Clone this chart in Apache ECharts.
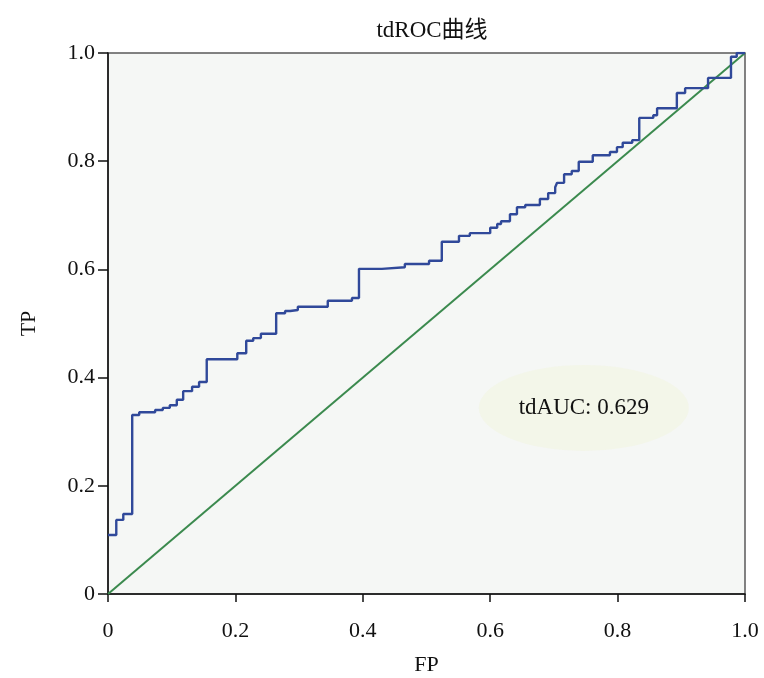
<!DOCTYPE html>
<html>
<head>
<meta charset="utf-8">
<script src="https://cdn.jsdelivr.net/npm/echarts@6/dist/echarts.min.js"></script>
<style>
  html, body { margin: 0; padding: 0; background: #fff; }
  #chart { width: 764px; height: 678px; }
</style>
</head>
<body>
<div id="chart"></div>
<script>
  // step points of the tdROC curve, [FP, TP] after each step
  const rocFP = [0, 0.013, 0.024, 0.038, 0.049, 0.074, 0.086, 0.097, 0.108, 0.118,
    0.132, 0.143, 0.155, 0.203, 0.217, 0.228, 0.240, 0.264, 0.278, 0.286,
    0.298, 0.345, 0.383, 0.394, 0.430, 0.466, 0.504, 0.524, 0.551, 0.568,
    0.600, 0.611, 0.617, 0.631, 0.642, 0.655, 0.678, 0.691, 0.702, 0.705,
    0.716, 0.728, 0.739, 0.761, 0.788, 0.799, 0.808, 0.823, 0.834, 0.856,
    0.862, 0.893, 0.906, 0.942, 0.978, 0.987, 1.0]
  const rocTP = [0.109, 0.137, 0.148, 0.331, 0.336, 0.340, 0.344, 0.349, 0.359, 0.375,
    0.383, 0.392, 0.434, 0.445, 0.468, 0.473, 0.481, 0.519, 0.523, 0.525,
    0.531, 0.542, 0.547, 0.601, 0.604, 0.610, 0.616, 0.651, 0.662, 0.667,
    0.677, 0.684, 0.689, 0.702, 0.715, 0.719, 0.730, 0.741, 0.752, 0.760,
    0.776, 0.782, 0.799, 0.811, 0.817, 0.826, 0.834, 0.839, 0.880, 0.885,
    0.898, 0.926, 0.935, 0.954, 0.993, 1.0, 1.0]
  const refFP = [0, 1]
  const refTP = [0, 1]
  const xTickLabels = ['0', '0.2', '0.4', '0.6', '0.8', '1.0']
  const yTickLabels = ['0', '0.2', '0.4', '0.6', '0.8', '1.0']
  const aucText = 'tdAUC: 0.629'
  const aucPos = [0.747, 0.344]

  const serif = '"Liberation Serif", "DejaVu Serif", serif'
  const chart = echarts.init(document.getElementById('chart'))
  chart.setOption({
    animation: false,
    backgroundColor: '#fff',
    title: {
      text: 'tdROC曲线',
      left: 427,
      top: 14,
      textAlign: 'center',
      textStyle: {fontFamily: serif + ', "Noto Sans CJK SC"', fontSize: 23, fontWeight: 'normal', color: '#111'}
    },
    grid: {
      left: 108, right: 19, top: 53, bottom: 84,
      outerBoundsMode: 'none',
      containLabel: false,
      show: true,
      backgroundColor: '#f5f7f5',
      borderColor: '#5a5a5a',
      borderWidth: 1.5
    },
    xAxis: {
      type: 'value',
      min: 0, max: 1, interval: 0.2,
      name: 'FP',
      nameLocation: 'middle',
      nameGap: 60,
      nameTextStyle: {fontFamily: serif, fontSize: 22, color: '#111'},
      axisLine: {lineStyle: {color: '#111', width: 1.5}},
      axisTick: {length: 8, lineStyle: {color: '#111', width: 1.5}},
      axisLabel: {
        margin: 26,
        fontFamily: serif, fontSize: 22, color: '#111',
        formatter: (v) => xTickLabels[Math.round(v * 5)]
      },
      splitLine: {show: false}
    },
    yAxis: {
      type: 'value',
      min: 0, max: 1, interval: 0.2,
      name: 'TP',
      nameLocation: 'middle',
      nameGap: 68,
      nameTextStyle: {fontFamily: serif, fontSize: 22, color: '#111'},
      axisLine: {lineStyle: {color: '#111', width: 1.5}},
      axisTick: {length: 10, lineStyle: {color: '#111', width: 1.5}},
      axisLabel: {
        margin: 13,
        fontFamily: serif, fontSize: 22, color: '#111',
        formatter: (v) => yTickLabels[Math.round(v * 5)]
      },
      splitLine: {show: false}
    },
    series: [
      {
        type: 'line',
        name: 'reference',
        symbol: 'none',
        lineStyle: {color: '#3b8a4e', width: 2},
        data: refFP.map((x, i) => [x, refTP[i]]),
        z: 2
      },
      {
        type: 'line',
        name: 'tdROC',
        step: 'end',
        symbol: 'none',
        lineStyle: {color: '#30499a', width: 2.4},
        data: rocFP.map((x, i) => [x, rocTP[i]]),
        z: 3,
        markPoint: {
          symbol: 'circle',
          symbolSize: [210, 86],
          silent: true,
          itemStyle: {color: 'rgba(242, 245, 228, 0.7)'},
          label: {
            show: true,
            formatter: aucText,
            fontFamily: serif, fontSize: 23, color: '#111'
          },
          data: [{coord: aucPos}]
        }
      }
    ]
  })
</script>
</body>
</html>
